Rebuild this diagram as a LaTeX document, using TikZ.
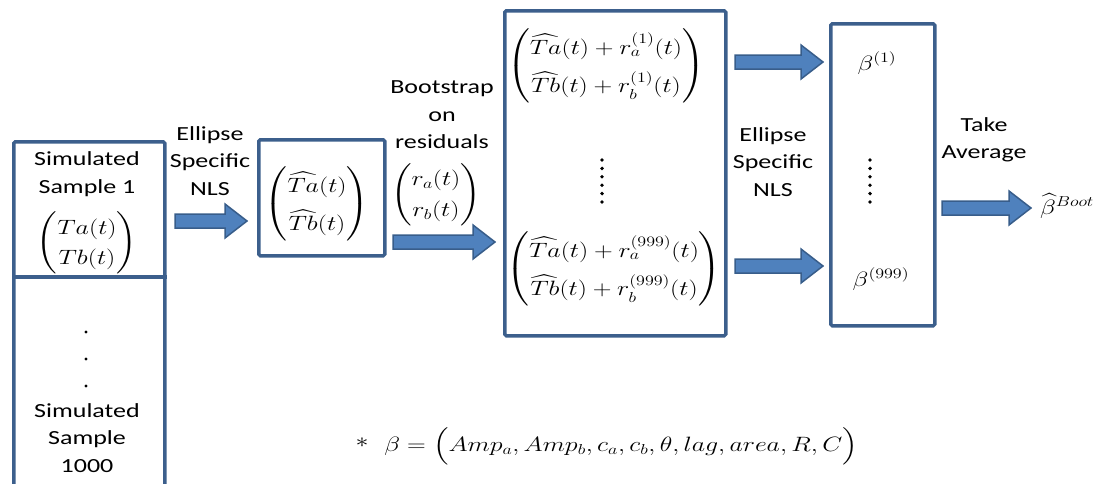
\documentclass[tikz,border=0pt]{standalone}
\usepackage{fontspec}
\setmainfont{Carlito}
\usepackage{amsmath}
\definecolor{boxc}{RGB}{60,95,140}
\definecolor{arrf}{RGB}{79,129,189}
\definecolor{arre}{RGB}{56,93,138}
\tikzset{
  frame/.style={draw=boxc, line width=3.5pt, rounded corners=1.5pt},
  lbl/.style={font=\fontsize{20}{27.5}\selectfont, align=center, xscale=1.3, inner sep=0pt},
  mth/.style={font=\fontsize{20}{24}\selectfont, xscale=1.25, inner sep=0pt},
  fat/.style={fill=arrf, draw=arre, line width=1.5pt, line join=miter}
}
\newcommand\blockarrow[3]{\draw[fat] (#1,#3-7) -- (#2-22,#3-7) -- (#2-22,#3-17) -- (#2,#3) -- (#2-22,#3+17) -- (#2-22,#3+7) -- (#1,#3+7) -- cycle;}
\newcommand\vdotcol[2]{\foreach \k in {0,...,5}{\fill (#1,#2+8.4*\k) circle (1.9pt);}}
\def\mstretch{\def\arraystretch{1.6}}
\begin{document}
\begin{tikzpicture}[x=1pt,y=-1pt]
\useasboundingbox (0,0) rectangle (1095,483);
% left box
\node[frame, anchor=north west, minimum width=151pt, minimum height=360pt] (s) at (12,140) {};
\draw[boxc, line width=3.5pt] (s.west |- 0,277) -- (s.east |- 0,277);
\node[lbl] (s1t) at (87,174) {Simulated\\Sample 1};
\node[mth] (s1m) at (87,243) {$\def\arraystretch{1.25}\begin{pmatrix} Ta(t)\\ Tb(t)\end{pmatrix}$};
\fill (86,332) circle (1.6pt) (86,359) circle (1.6pt) (86,386) circle (1.6pt);
\node[lbl] (s1000) at (87,438) {Simulated\\Sample\\1000};
% arrow 1
\node[lbl] (l1) at (210,161) {Ellipse\\Specific\\NLS};
\blockarrow{175}{247}{221}
% box 2
\node[frame, anchor=north west, minimum width=126pt, minimum height=116pt] (b2) at (257,138) {};
\node[mth] (b2m) at (317,204) {$\mstretch\begin{pmatrix} \widehat{Ta}(t)\\ \widehat{Tb}(t)\end{pmatrix}$};
% bootstrap
\node[lbl] (l2) at (442,115) {Bootstrap\\on\\residuals};
\node[mth] (rm) at (436,195) {$\def\arraystretch{1.3}\begin{pmatrix} r_a(t)\\ r_b(t)\end{pmatrix}$};
\blockarrow{393}{495}{242}
% box 3
\node[frame, anchor=north west, minimum width=221pt, minimum height=325pt] (b3) at (503,9) {};
\node[mth] (b3a) at (606,66) {$\mstretch\begin{pmatrix} \widehat{Ta}(t)+r_a^{(1)}(t)\\ \widehat{Tb}(t)+r_b^{(1)}(t)\end{pmatrix}$};
\vdotcol{602}{160}
\node[mth] (b3b) at (614,269) {$\mstretch\begin{pmatrix} \widehat{Ta}(t)+r_a^{(999)}(t)\\ \widehat{Tb}(t)+r_b^{(999)}(t)\end{pmatrix}$};
% arrows 3,4
\blockarrow{735}{823}{62}
\blockarrow{735}{823}{266}
\node[lbl] (l3) at (773,162) {Ellipse\\Specific\\NLS};
% box 4
\node[frame, anchor=north west, minimum width=104pt, minimum height=302pt] (b4) at (829,22) {};
\node[mth] (be1) at (877,63) {$\beta^{(1)}$};
\vdotcol{870}{160}
\node[mth] (be999) at (881,279) {$\beta^{(999)}$};
% take average
\node[lbl] (l4) at (984,140) {Take\\Average};
\blockarrow{942}{1031}{208}
\node[mth] (bb) at (1067,206) {$\widehat{\beta}^{Boot}$};
% footnote
\node[mth] (star) at (362,443) {$\ast$};
\node[mth, anchor=west] (foot) at (384,446) {$\beta=\Big(Amp_a, Amp_b, c_a, c_b, \theta, lag, area, R, C\Big)$};
\end{tikzpicture}
\end{document}
